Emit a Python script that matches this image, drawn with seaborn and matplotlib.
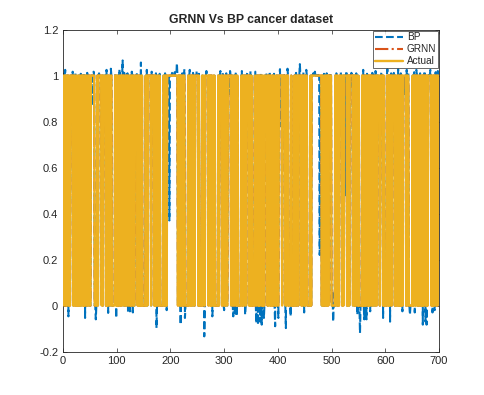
import numpy as np
import pandas as pd
import seaborn as sns
import matplotlib.pyplot as plt

sns.set_theme(style="ticks")
plt.rcParams['font.family'] = ['Liberation Sans', 'DejaVu Sans']

# actual class labels (0/1), one char per sample in blocks of 10
actual_str = """
1011010110 1001111101 0110100101 0010110101 0110100110
0111111100 0001011111 1010111110 1010110011 0000001101
0100110101 1011001011 0110010110 1001111101 0100101000
0001010111 1110111110 1010011011 0000001101 0101111111
1111111111 1110110101 0110110000 0010110101 0110011111
1010000010 1100111111 0110101001 0100000010 1111101100
1011001111 1101100110 1101100000 0110101100 1111101010
1000001100 1101010110 1010011111 0101101001 0110010110
0111111011 1110010110 0000100000 1011011011 1110101101
0111000000 1011111111 1111111111 1010010110 1010111110
0000001011 0100111110 1011111101 0101111110 1101011001
0000001010 0101011010 1011010011 0110111110 1111101000
0011010101 1011111010 1101010010 1011111101 0110000000
1011010110 1001101010 1011010101 1111101010 101101011
"""

# BP output where it differs visibly from the actual label
bp_top_idx = [4, 18, 38, 57, 81, 89, 105, 111, 128, 145, 156, 165, 190, 212, 226,
              236, 249, 267, 293, 311, 333, 349, 358, 385, 404, 418, 441, 453, 469,
              491, 528, 559, 582, 604, 624, 640, 658, 673, 684, 698]
bp_top_val = [1.025, 1.017, 1.01, 1.017, 1.025, 1.03, 1.028, 1.066, 1.017, 1.057,
              1.025, 1.017, 1.01, 1.054, 1.028, 1.025, 1.02, 1.02, 1.02, 1.02,
              1.02, 1.02, 1.017, 1.017, 1.028, 1.03, 1.05, 1.025, 1.017, 1.01,
              1.02, 1.025, 1.02, 1.028, 1.028, 1.025, 1.025, 1.02, 1.025, 1.02]
# small bumps just above 1 along the top edge
bp_edge_idx = [1, 23, 33, 45, 67, 98, 114, 120, 138, 173, 180, 203, 208, 222, 242,
               253, 273, 297, 304, 322, 337, 343, 368, 378, 393, 410, 434, 448, 466,
               474, 486, 497, 509, 517, 537, 546, 566, 576, 593, 611, 616, 629, 643,
               654, 665, 682, 694]
bp_edge_val = [1.012, 1.01, 1.008, 1.012, 1.01, 1.008, 1.012, 1.01, 1.015, 1.01,
               1.008, 1.012, 1.015, 1.01, 1.012, 1.008, 1.01, 1.012, 1.01, 1.015,
               1.008, 1.012, 1.01, 1.012, 1.008, 1.01, 1.012, 1.015, 1.01, 1.012,
               1.008, 1.012, 1.01, 1.015, 1.012, 1.01, 1.008, 1.012, 1.015, 1.01,
               1.012, 1.01, 1.012, 1.015, 1.01, 1.012, 1.015]
bp_low_idx = [10, 41, 61, 84, 99, 121, 125, 130, 174, 193, 219, 227, 263, 278, 300,
              317, 320, 323, 339, 360, 363, 367, 370, 374, 395, 401, 415, 424, 449,
              503, 548, 553, 561, 563, 565, 572, 596, 609, 632, 646, 655, 670, 675,
              677, 688, 692]
bp_low_val = [-0.047, -0.054, -0.06, -0.032, -0.054, -0.03, -0.035, -0.03, -0.098,
              -0.02, -0.083, -0.054, -0.134, -0.047, -0.02, -0.047, -0.04, -0.047,
              -0.04, -0.076, -0.083, -0.07, -0.083, -0.054, -0.09, -0.054, -0.098,
              -0.047, -0.03, -0.07, -0.04, -0.12, -0.06, -0.05, -0.06, -0.025,
              -0.054, -0.07, -0.025, -0.04, -0.03, -0.083, -0.07, -0.083, -0.03, -0.02]
bp_mid_idx = [54, 76, 198, 310, 405, 478, 502, 526, 536, 636]
bp_mid_val = [0.87, 0.95, 0.37, 0.92, 0.78, 0.22, 0.055, 0.48, 0.95, 0.92]

actual = np.array([int(c) for c in actual_str if c in '01'])
sample = np.arange(1, len(actual) + 1)

bp = actual.astype(float)
bp[np.array(bp_top_idx) - 1] = bp_top_val
bp[np.array(bp_edge_idx) - 1] = bp_edge_val
bp[np.array(bp_low_idx) - 1] = bp_low_val
bp[np.array(bp_mid_idx) - 1] = bp_mid_val

# GRNN output matches the labels everywhere it can be seen
grnn = actual.astype(float)

df = pd.DataFrame({'Sample': sample, 'BP': bp, 'GRNN': grnn, 'Actual': actual})

fig, ax = plt.subplots(figsize=(4.85, 3.95), dpi=100)
fig.subplots_adjust(left=0.13, right=0.905, bottom=0.11, top=0.925)

sns.lineplot(data=df, x='Sample', y='BP', ax=ax, estimator=None, color='#0072BD',
             lw=1.5, linestyle='--', label='BP', zorder=2)
sns.lineplot(data=df, x='Sample', y='GRNN', ax=ax, estimator=None, color='#D95319',
             lw=1.5, linestyle='-.', label='GRNN', zorder=3)
sns.lineplot(data=df, x='Sample', y='Actual', ax=ax, estimator=None, color='#EDB120',
             lw=1.7, label='Actual', zorder=4)

ax.set_xlim(0, 700)
ax.set_ylim(-0.2, 1.2)
ax.set_xticks(np.arange(0, 701, 100))
yt = [-0.2, 0, 0.2, 0.4, 0.6, 0.8, 1, 1.2]
ax.set_yticks(yt)
ax.set_yticklabels(['-0.2', '0', '0.2', '0.4', '0.6', '0.8', '1', '1.2'])
ax.set_xlabel('')
ax.set_ylabel('')
ax.tick_params(direction='in', top=True, right=True, length=3, width=0.5,
               labelsize=8, colors='#262626')
for s in ax.spines.values():
    s.set_visible(True)
    s.set_color('#262626')
    s.set_linewidth(0.6)

ax.set_title('GRNN Vs BP cancer dataset', fontsize=8.8, fontweight='bold', pad=5)
leg = ax.legend(loc='upper right', fontsize=7.2, frameon=True, fancybox=False,
                edgecolor='#262626', borderpad=0.15, handlelength=2.8,
                labelspacing=0.2, borderaxespad=0.1, handletextpad=0.4)
leg.get_frame().set_linewidth(0.6)

plt.savefig('out.png', dpi=100)
